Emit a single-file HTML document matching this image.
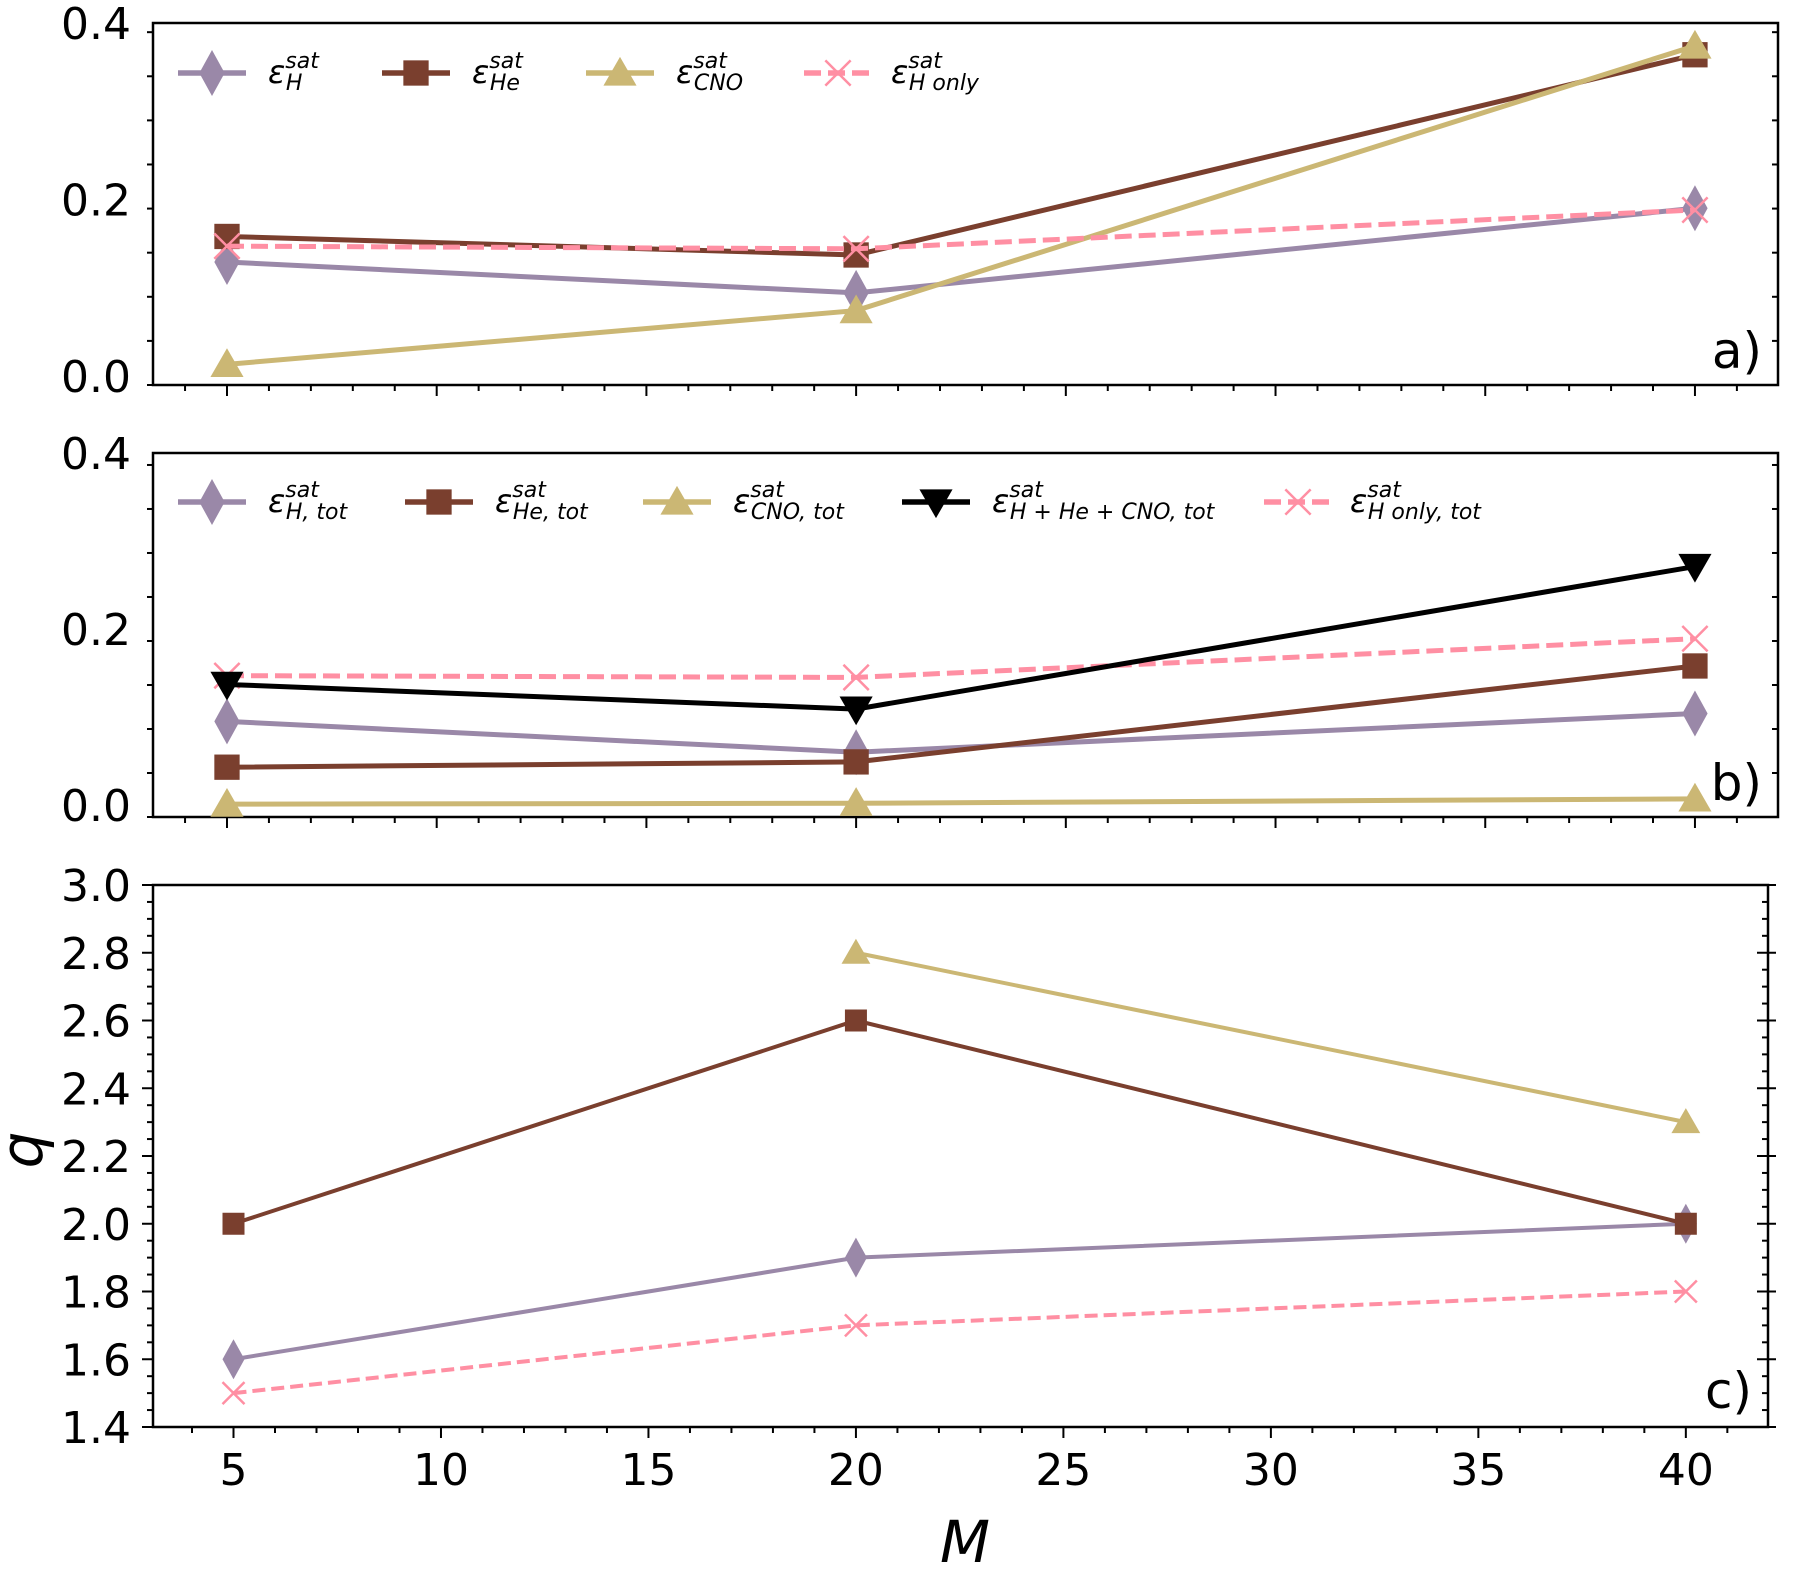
<!DOCTYPE html>
<html><head><meta charset="utf-8"><style>
html,body{margin:0;padding:0;background:#fff}
svg{display:block;font-family:"DejaVu Sans","Liberation Sans",sans-serif}
</style></head><body>
<svg id="chart" width="1793" height="1575" viewBox="0 0 1793 1575" xmlns="http://www.w3.org/2000/svg"></svg>
<script>
const masses = [5, 20, 40];
const aH = [0.129, 0.094, 0.190];
const aHe = [0.158, 0.137, 0.364];
const aCNO = [0.013, 0.074, 0.374];
const aHonly = [0.147, 0.144, 0.188];
const bH = [0.095, 0.060, 0.104];
const bHe = [0.043, 0.049, 0.158];
const bCNO = [0.001, 0.002, 0.007];
const bTot = [0.137, 0.109, 0.271];
const bHonly = [0.147, 0.145, 0.189];
const cMasses = [5, 20, 40];
const cH = [1.6, 1.9, 2.0];
const cHe = [2.0, 2.6, 2.0];
const cCNO = [null, 2.8, 2.3];
const cHonly = [1.5, 1.7, 1.8];
const xTicks = [5, 10, 15, 20, 25, 30, 35, 40];
const abYTicks = [0.0, 0.2, 0.4];
const cYTicks = [1.4, 1.6, 1.8, 2.0, 2.2, 2.4, 2.6, 2.8, 3.0];

const NS = "http://www.w3.org/2000/svg";
const svg = document.getElementById('chart');
function el(tag, attrs, parent) {
  const e = document.createElementNS(NS, tag);
  for (const k in attrs) e.setAttribute(k, attrs[k]);
  (parent || svg).appendChild(e);
  return e;
}
const COL = {H:'#9a88a8', He:'#7a3f2e', CNO:'#cbb774', Honly:'#ff8fa3', Tot:'#000000'};

function marker(g, type, x, y, color, s) {
  let m;
  if (type === 'diamond') m = el('polygon', {points:`${x},${y-s} ${x+s*0.55},${y} ${x},${y+s} ${x-s*0.55},${y}`, fill:color}, g);
  else if (type === 'square') m = el('rect', {x:x-s*0.55, y:y-s*0.55, width:s*1.1, height:s*1.1, fill:color}, g);
  else if (type === 'tri') m = el('polygon', {points:`${x},${y-s*0.7} ${x+s*0.72},${y+s*0.55} ${x-s*0.72},${y+s*0.55}`, fill:color}, g);
  else if (type === 'tridown') m = el('polygon', {points:`${x},${y+s*0.7} ${x+s*0.72},${y-s*0.55} ${x-s*0.72},${y-s*0.55}`, fill:color}, g);
  else if (type === 'x') m = el('path', {d:`M${x-s*0.55},${y-s*0.55}L${x+s*0.55},${y+s*0.55}M${x-s*0.55},${y+s*0.55}L${x+s*0.55},${y-s*0.55}`, stroke:color, 'stroke-width':2.5, fill:'none'}, g);
  
  
  return m;
}

function panel(cfg) {
  const g = el('g', {});
  
  
  const X = v => cfg.L + (v - cfg.xmin) / (cfg.xmax - cfg.xmin) * (cfg.R - cfg.L);
  const Y = v => cfg.B - (v - cfg.ymin) / (cfg.ymax - cfg.ymin) * (cfg.B - cfg.T);
  const fr = el('rect', {x:cfg.L, y:cfg.T, width:cfg.R-cfg.L, height:cfg.B-cfg.T, fill:'none', stroke:'#000', 'stroke-width':2.5}, g);
  
  
  for (let v = 4; v <= 41; v++) {
    const major = v % 5 === 0;
    const t = el('line', {x1:X(v), x2:X(v), y1:cfg.B, y2:cfg.B + (major ? 11 : 6), stroke:'#000', 'stroke-width':2}, g);
    
    
  }
  if (cfg.xlabels) xTicks.forEach(v => {
    const t = el('text', {x:X(v), y:cfg.B + 58, 'font-size':44, 'text-anchor':'middle'}, g);
    t.textContent = v;
    
    
  });
  for (let v = cfg.ymin; v <= cfg.ymax + 1e-9; v += cfg.minor) {
    const yy = Y(v);
    const major = cfg.yticks.some(t => Math.abs(t - v) < 1e-6);
    const t1 = el('line', {x1:cfg.L - (major ? 11 : 6), x2:cfg.L, y1:yy, y2:yy, stroke:'#000', 'stroke-width':2}, g);
    
    
    const t2 = el('line', {x1:cfg.R - (major ? 11 : 6), x2:cfg.R + (major ? 8 : 0), y1:yy, y2:yy, stroke:'#000', 'stroke-width':2}, g);
    
    
  }
  cfg.yticks.forEach(v => {
    const t = el('text', {x:cfg.L - 22, y:Y(v) + 16, 'font-size':44, 'text-anchor':'end'}, g);
    t.textContent = v.toFixed(1);
    
    
  });
  cfg.series.forEach(s => {
    const pts = [];
    s.xs.forEach((xv, i) => { if (s.ys[i] !== null) pts.push([X(xv), Y(s.ys[i])]); });
    const p = el('polyline', {points:pts.map(p => p.join(',')).join(' '), fill:'none', stroke:s.color, 'stroke-width':cfg.lw, 'stroke-dasharray':s.dash ? cfg.dash : 'none'}, g);
    
    
    pts.forEach(pt => marker(g, s.m, pt[0], pt[1], s.color, cfg.ms));
  });
  const lb = el('text', {x:cfg.R - 16, y:cfg.labelY, 'font-size':50, 'text-anchor':'end'}, g);
  lb.textContent = cfg.label;
  
  
  if (cfg.legend) cfg.legend.forEach(e => {
    const lg = el('g', {}, g);
    
    
    el('line', {x1:e.x, x2:e.x + 68, y1:cfg.legY, y2:cfg.legY, stroke:e.color, 'stroke-width':5.5, 'stroke-dasharray':e.dash ? '17,7' : 'none'}, lg);
    marker(lg, e.m, e.x + 34, cfg.legY, e.color, 23);
    const t = el('text', {x:e.tx, y:cfg.legY + 10, 'font-size':32, 'font-style':'italic'}, lg);
    const a = el('tspan', {}, t); a.textContent = 'ε';
    const b = el('tspan', {'font-size':22, dy:-15}, t); b.textContent = 'sat';
    const c = el('tspan', {'font-size':22, dx:-33, dy:22}, t); c.textContent = e.sub;
    
  });
}

panel({name:'panel-a', L:153, R:1778, T:23, B:385, xmin:3.236, xmax:41.98, ymin:-0.0104, ymax:0.4,
  yticks:abYTicks, minor:0.05, lw:5, ms:23, dash:'17,7', label:'a)', labelY:368, xlabels:false, legY:73,
  series:[
    {name:'h', xs:masses, ys:aH, color:COL.H, m:'diamond'},
    {name:'he', xs:masses, ys:aHe, color:COL.He, m:'square'},
    {name:'cno', xs:masses, ys:aCNO, color:COL.CNO, m:'tri'},
    {name:'h-only', xs:masses, ys:aHonly, color:COL.Honly, m:'x', dash:true}],
  legend:[
    {x:178, tx:268, color:COL.H, m:'diamond', sub:'H'},
    {x:382, tx:472, color:COL.He, m:'square', sub:'He'},
    {x:586, tx:676, color:COL.CNO, m:'tri', sub:'CNO'},
    {x:804, tx:891, color:COL.Honly, m:'x', dash:true, sub:'H only'}]
});
panel({name:'panel-b', L:153, R:1778, T:453, B:817, xmin:3.236, xmax:41.98, ymin:-0.0136, ymax:0.4,
  yticks:abYTicks, minor:0.05, lw:5, ms:23, dash:'17,7', label:'b)', labelY:800, xlabels:false, legY:502,
  series:[
    {name:'h-tot', xs:masses, ys:bH, color:COL.H, m:'diamond'},
    {name:'he-tot', xs:masses, ys:bHe, color:COL.He, m:'square'},
    {name:'cno-tot', xs:masses, ys:bCNO, color:COL.CNO, m:'tri'},
    {name:'h-only-tot', xs:masses, ys:bHonly, color:COL.Honly, m:'x', dash:true},
    {name:'total', xs:masses, ys:bTot, color:COL.Tot, m:'tridown'}],
  legend:[
    {x:178, tx:268, color:COL.H, m:'diamond', sub:'H, tot'},
    {x:405, tx:495, color:COL.He, m:'square', sub:'He, tot'},
    {x:643, tx:733, color:COL.CNO, m:'tri', sub:'CNO, tot'},
    {x:902, tx:992, color:COL.Tot, m:'tridown', sub:'H + He + CNO, tot'},
    {x:1264, tx:1350, color:COL.Honly, m:'x', dash:true, sub:'H only, tot'}]
});
panel({name:'panel-c', L:153, R:1768, T:885, B:1427, xmin:3.06, xmax:41.98, ymin:1.4, ymax:3.0,
  yticks:cYTicks, minor:0.05, lw:4, ms:20, dash:'13,6', label:'c)', labelY:1408, xlabels:true,
  series:[
    {name:'q-h', xs:cMasses, ys:cH, color:COL.H, m:'diamond'},
    {name:'q-he', xs:cMasses, ys:cHe, color:COL.He, m:'square'},
    {name:'q-cno', xs:cMasses, ys:cCNO, color:COL.CNO, m:'tri'},
    {name:'q-h-only', xs:cMasses, ys:cHonly, color:COL.Honly, m:'x', dash:true}]
});
const xl = el('text', {x:965, y:1562, 'font-size':58, 'font-style':'italic', 'text-anchor':'middle'});
xl.textContent = 'M';


const yl = el('text', {x:0, y:0, 'font-size':58, 'font-style':'italic', 'text-anchor':'middle', transform:'translate(42,1150) rotate(-90)'});
yl.textContent = 'q';


</script>
</body></html>
